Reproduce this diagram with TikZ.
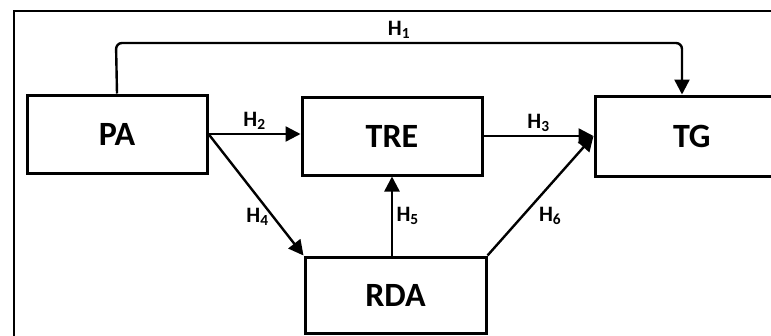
\documentclass[tikz,border=0pt]{standalone}
\usepackage{fontspec}
\setmainfont{Carlito}
\usepackage{tikz}
\usetikzlibrary{arrows.meta, positioning, calc}

\tikzset{
    varbox/.style={draw, line width=3pt, inner sep=0pt, font=\fontsize{34}{36}\selectfont\bfseries},
    hyp/.style={line width=2.4pt, -{Triangle[length=15pt, width=15pt]}},
    hlabel/.style={font=\fontsize{22}{24}\selectfont\bfseries}
}

\begin{document}
\begin{tikzpicture}[x=1pt, y=-1pt]
        \useasboundingbox (0,0) rectangle (771,335);
        \draw[line width=2pt] (14,340) -- (14,11) -- (780,11);

        \node[varbox, minimum width=180pt, minimum height=78pt] (PA) at (117,134) {PA};
        \node[varbox, minimum width=180pt, minimum height=78pt] (TRE) at (392,136) {TRE};
        \node[varbox, minimum width=182pt, minimum height=80pt, text width=170pt, align=left] (TG) at (686,136) {\hspace*{72pt}TG};
        \node[varbox, minimum width=181pt, minimum height=76pt] (RDA) at (395.5,295) {RDA};

        \draw[hyp, rounded corners=6pt] (PA.north) -- (116,43) -- node[hlabel, above] {H\textsubscript{1}} (682,43) -- (682,0 |- TG.north);
        \draw[hyp] (PA.east) -- node[hlabel, above] {H\textsubscript{2}} (TRE.west |- PA.east);
        \draw[hyp] (TRE.east) -- node[hlabel, above] {H\textsubscript{3}} (TG.west);
        \draw[hyp] (PA.east) -- node[hlabel, pos=0.68, left] {H\textsubscript{4}} (RDA.north west);
        \draw[hyp] (TRE.south |- RDA.north) -- node[hlabel, right] {H\textsubscript{5}} (TRE.south);
        \draw[hyp] (RDA.north east) -- node[hlabel, pos=0.33, right=12pt] {H\textsubscript{6}} (TG.west);
    \end{tikzpicture}
\end{document}
